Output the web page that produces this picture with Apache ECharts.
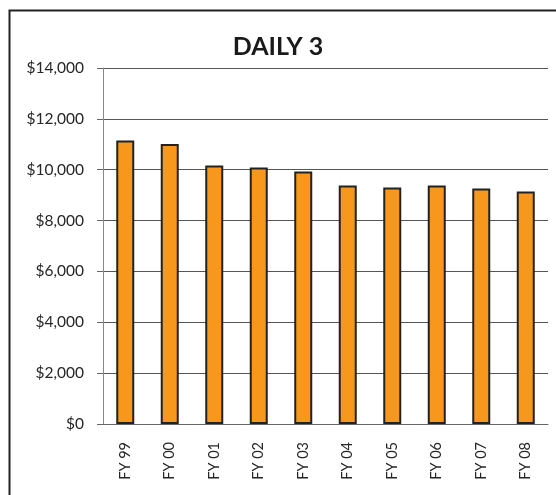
<!DOCTYPE html>
<html>
<head>
<meta charset="utf-8">
<script src="https://cdn.jsdelivr.net/npm/echarts@6/dist/echarts.min.js"></script>
<style>
  html, body { margin: 0; padding: 0; background: #fff; }
  #chart { width: 556px; height: 495px; }
</style>
</head>
<body>
<div id="chart"></div>
<script>
// fiscal years
const categories = ['FY 99', 'FY 00', 'FY 01', 'FY 02', 'FY 03', 'FY 04', 'FY 05', 'FY 06', 'FY 07', 'FY 08'];
// daily 3 sales
const sales = [11150, 11010, 10170, 10090, 9930, 9380, 9300, 9380, 9260, 9140];
const yTicks = [0, 2000, 4000, 6000, 8000, 10000, 12000, 14000];

const font = 'Lato, "Open Sans", sans-serif';
const chart = echarts.init(document.getElementById('chart'));

chart.setOption({
  backgroundColor: '#fff',
  animation: false,
  title: {
    text: 'DAILY 3',
    left: 'center',
    top: 29,
    textStyle: { fontFamily: font, fontSize: 25, fontWeight: 'bold', color: '#1a1a1a' }
  },
  grid: { left: 103, right: 8, top: 68, bottom: 71 },
  xAxis: {
    type: 'category',
    data: categories,
    axisLine: { lineStyle: { color: '#666', width: 1 } },
    axisTick: { length: 6, lineStyle: { color: '#666' } },
    axisLabel: {
      rotate: 90,
      margin: 18,
      fontFamily: font,
      fontSize: 14.5,
      color: '#262626'
    }
  },
  yAxis: {
    type: 'value',
    min: yTicks[0],
    max: yTicks[yTicks.length - 1],
    interval: 2000,
    axisLine: { show: true, lineStyle: { color: '#888' } },
    axisTick: { show: true, length: 6, lineStyle: { color: '#666' } },
    splitLine: { lineStyle: { color: '#555', width: 1 } },
    axisLabel: {
      margin: 19,
      fontFamily: font,
      fontSize: 15.5,
      color: '#262626',
      formatter: v => '$' + v.toLocaleString('en-US')
    }
  },
  series: [{
    type: 'bar',
    data: sales,
    barWidth: 18,
    itemStyle: { color: '#F7981D', borderColor: '#222', borderWidth: 2 }
  }],
  graphic: [{
    type: 'rect',
    left: 7,
    top: 8,
    shape: { width: 580, height: 520 },
    style: { fill: 'none', stroke: '#222', lineWidth: 2 },
    silent: true
  }]
});
</script>
</body>
</html>
